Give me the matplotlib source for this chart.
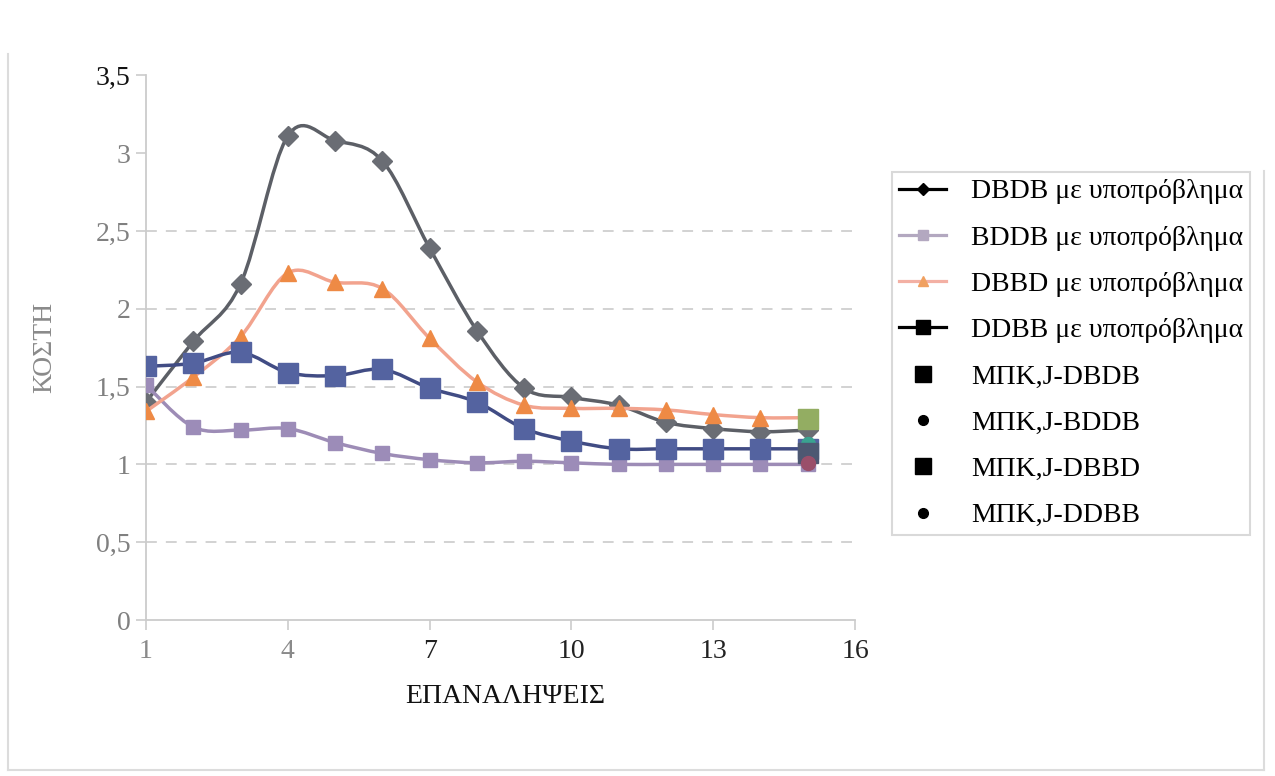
import matplotlib
matplotlib.use("Agg")
import matplotlib.pyplot as plt
from matplotlib.path import Path
from matplotlib.patches import PathPatch
from matplotlib.lines import Line2D

# ---- data ----------------------------------------------------------------
iterations = list(range(1, 16))
dbdb = [1.40, 1.79, 2.16, 3.11, 3.08, 2.95, 2.39, 1.86, 1.49, 1.43, 1.38, 1.27, 1.23, 1.21, 1.22]
bddb = [1.51, 1.24, 1.22, 1.23, 1.14, 1.07, 1.03, 1.01, 1.02, 1.01, 1.00, 1.00, 1.00, 1.00, 1.00]
dbbd = [1.34, 1.56, 1.82, 2.23, 2.17, 2.13, 1.81, 1.53, 1.38, 1.36, 1.36, 1.35, 1.32, 1.30, 1.30]
ddbb = [1.63, 1.65, 1.72, 1.59, 1.57, 1.61, 1.49, 1.40, 1.23, 1.15, 1.10, 1.10, 1.10, 1.10, 1.10]

mpk_x = 15
mpk_labels = ["ΜΠΚ,J-DBDB", "ΜΠΚ,J-BDDB", "ΜΠΚ,J-DBBD", "ΜΠΚ,J-DDBB"]
mpk_values = [1.29, 1.13, 1.07, 1.01]

series_labels = ["DBDB με υποπρόβλημα", "BDDB με υποπρόβλημα",
                 "DBBD με υποπρόβλημα", "DDBB με υποπρόβλημα"]

x_ticks = [1, 4, 7, 10, 13, 16]
y_ticks = [0, 0.5, 1, 1.5, 2, 2.5, 3, 3.5]
y_tick_labels = ["0", "0,5", "1", "1,5", "2", "2,5", "3", "3,5"]
grid_levels = [0.5, 1, 1.5, 2, 2.5]


def smooth_path(x, y):
    # Excel-like smoothed line: cubic Bezier segments through every point
    n = len(x)
    verts = [(x[0], y[0])]
    codes = [Path.MOVETO]
    for i in range(n - 1):
        xa, ya = (x[i - 1], y[i - 1]) if i > 0 else (x[i], y[i])
        xb, yb = (x[i + 2], y[i + 2]) if i + 2 < n else (x[i + 1], y[i + 1])
        c1 = (x[i] + (x[i + 1] - xa) / 6, y[i] + (y[i + 1] - ya) / 6)
        c2 = (x[i + 1] - (xb - x[i]) / 6, y[i + 1] - (yb - y[i]) / 6)
        verts += [c1, c2, (x[i + 1], y[i + 1])]
        codes += [Path.CURVE4] * 3
    return Path(verts, codes)


plt.rcParams["font.family"] = ["Liberation Serif", "DejaVu Serif"]

fig = plt.figure(figsize=(12.75, 7.76), dpi=100)
ax = fig.add_axes([0.1145, 0.201, 0.5561, 0.702])

# faint outer chart border (no top edge visible in the scan)
border = dict(transform=fig.transFigure, color="#dcdcdc", linewidth=1.5)
fig.lines.append(Line2D([0.0065, 0.0065], [0.008, 0.93], **border))
fig.lines.append(Line2D([0.0065, 0.991], [0.008, 0.008], **border))
fig.lines.append(Line2D([0.991, 0.991], [0.008, 0.78], **border))

styles = [
    # line colour, marker, marker colour, marker size
    ("#5c5f66", "D", "#6a6d74", 10),
    ("#9d8cb6", "s", "#9c8cb8", 10),
    ("#f2a38e", "^", "#ee8a45", 11),
    ("#414c84", "s", "#5463a0", 15),
]
for k, (vals, (lc, mk, mc, ms)) in enumerate(zip([dbdb, bddb, dbbd, ddbb], styles)):
    ax.add_patch(PathPatch(smooth_path(iterations, vals), fill=False,
                           edgecolor=lc, linewidth=2.5, zorder=2 + 2 * k))
    ax.plot(iterations, vals, linestyle="none", marker=mk, color=mc,
            markeredgecolor=mc, markersize=ms, zorder=3 + 2 * k)

mpk_styles = [("s", "#93ad62", 15), ("o", "#3aa391", 10), ("s", "#4d5872", 15), ("o", "#9a4f6a", 10)]
for v, (mk, mc, ms) in zip(mpk_values, mpk_styles):
    ax.plot([mpk_x], [v], linestyle="none", marker=mk, color=mc, markersize=ms, zorder=12)

# dashed gridlines
ax.hlines(grid_levels, 1, 16, colors="#cfcfcf", linestyles=(0, (6, 5)), linewidth=1.3, zorder=1)

ax.set_xlim(1, 16)
ax.set_ylim(0, 3.5)
ax.set_xticks(x_ticks)
ax.set_yticks(y_ticks)
ax.set_yticklabels(y_tick_labels)
for s in ["top", "right"]:
    ax.spines[s].set_visible(False)
for s in ["left", "bottom"]:
    ax.spines[s].set_color("#cccccc")
    ax.spines[s].set_linewidth(1.3)
ax.tick_params(axis="both", colors="#cccccc", length=7, width=1.2, labelsize=20)
ax.tick_params(axis="x", pad=7)
ax.tick_params(axis="y", pad=4)
for i, t in enumerate(ax.get_yticklabels()):
    t.set_color("#111111" if i == len(y_ticks) - 1 else "#808080")
for i, t in enumerate(ax.get_xticklabels()):
    t.set_color("#8a8a8a" if i < 2 else "#222222")

ax.set_xlabel("ΕΠΑΝΑΛΗΨΕΙΣ", fontsize=20, color="#111111")
ax.xaxis.set_label_coords(0.506, -0.117)
ax.set_ylabel("ΚΟΣΤΗ", fontsize=20, color="#8a8a8a")
ax.yaxis.set_label_coords(-0.125, 0.5)

# legend (handles appear black in the original)
handles = [
    Line2D([], [], color="black", marker="D", markersize=6, linewidth=2.3),
    Line2D([], [], color="#b3a8c0", marker="s", markersize=7, linewidth=2.3),
    Line2D([], [], color="#f3b0a4", marker="^", markerfacecolor="#f0a060",
           markeredgecolor="#f0a060", markersize=7, linewidth=2.3),
    Line2D([], [], color="black", marker="s", markersize=10, linewidth=2.3),
    Line2D([], [], color="black", marker="s", linestyle="none", markersize=11),
    Line2D([], [], color="black", marker="o", linestyle="none", markersize=7),
    Line2D([], [], color="black", marker="s", linestyle="none", markersize=11),
    Line2D([], [], color="black", marker="o", linestyle="none", markersize=7),
]
leg = fig.legend(handles, series_labels + mpk_labels, loc="upper left",
                 bbox_to_anchor=(0.6996, 0.7784), bbox_transform=fig.transFigure,
                 borderaxespad=0, fontsize=20, frameon=True, fancybox=False,
                 handlelength=1.7, handletextpad=0.9, labelspacing=0.75,
                 borderpad=0.25)
leg.get_frame().set_edgecolor("#d0d0d0")
leg.get_frame().set_linewidth(1.5)

fig.savefig("out.png", dpi=100)
